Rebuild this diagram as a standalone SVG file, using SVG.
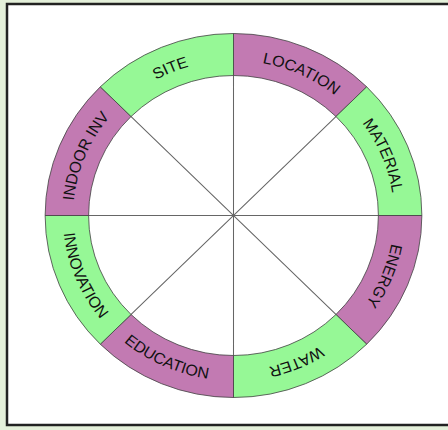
<svg xmlns="http://www.w3.org/2000/svg" width="448" height="430" viewBox="0 0 448 430">
<style>
.g{fill:#96f896;stroke:#444;stroke-width:0.8}
.p{fill:#c27ab2;stroke:#444;stroke-width:0.8}
.t{font-family:"Liberation Sans",Arial,sans-serif;font-size:15.5px;fill:#111}
.sp{stroke:#666;stroke-width:1;fill:none}
</style>
<defs>
<path id="tLOC" d="M0,-155 A155,155 0 0 1 109.6,-109.6"/>
<path id="tMAT" d="M109.6,-109.6 A155,155 0 0 1 155,0"/>
<path id="tENE" d="M155,0 A155,155 0 0 1 109.6,109.6"/>
<path id="tWAT" d="M109.6,109.6 A155,155 0 0 1 0,155"/>
<path id="tEDU" d="M-116.67,116.67 A165,165 0 0 0 0,165"/>
<path id="tINN" d="M-165,0 A165,165 0 0 0 -116.67,116.67"/>
<path id="tIND" d="M-155,0 A155,155 0 0 1 -109.6,-109.6"/>
<path id="tSIT" d="M-109.6,-109.6 A155,155 0 0 1 0,-155"/>
</defs>
<rect x="0" y="0" width="448" height="430" fill="#e4f0da"/>
<rect x="7" y="4" width="446" height="421" fill="#fff" stroke="#222" stroke-width="2.5"/>
<g transform="translate(233.5,215.5) scale(1.035,1)">
<g id="connectors">
<path class="sp" d="M0,-182 V182 M-182,0 H182 M-128.69,-128.69 L128.69,128.69 M128.69,-128.69 L-128.69,128.69"/>
</g>
<g id="location"><path class="p" d="M0,-182 A182,182 0 0 1 128.69,-128.69 L98.99,-98.99 A140,140 0 0 0 0,-140Z"/><text class="t" text-anchor="middle"><textPath href="#tLOC" startOffset="55%">LOCATION</textPath></text></g>
<g id="material"><path class="g" d="M128.69,-128.69 A182,182 0 0 1 182,0 L140,0 A140,140 0 0 0 98.99,-98.99Z"/><text class="t" text-anchor="middle"><textPath href="#tMAT" startOffset="50%">MATERIAL</textPath></text></g>
<g id="energy"><path class="p" d="M182,0 A182,182 0 0 1 128.69,128.69 L98.99,98.99 A140,140 0 0 0 140,0Z"/><text class="t" text-anchor="middle"><textPath href="#tENE" startOffset="50%">ENERGY</textPath></text></g>
<g id="water"><path class="g" d="M128.69,128.69 A182,182 0 0 1 0,182 L0,140 A140,140 0 0 0 98.99,98.99Z"/><text class="t" text-anchor="middle"><textPath href="#tWAT" startOffset="50%">WATER</textPath></text></g>
<g id="education"><path class="p" d="M0,182 A182,182 0 0 1 -128.69,128.69 L-98.99,98.99 A140,140 0 0 0 0,140Z"/><text class="t" text-anchor="middle"><textPath href="#tEDU" startOffset="46%">EDUCATION</textPath></text></g>
<g id="innovation"><path class="g" d="M-128.69,128.69 A182,182 0 0 1 -182,0 L-140,0 A140,140 0 0 0 -98.99,98.99Z"/><text class="t" text-anchor="middle"><textPath href="#tINN" startOffset="50%">INNOVATION</textPath></text></g>
<g id="indoor-inv"><path class="p" d="M-182,0 A182,182 0 0 1 -128.69,-128.69 L-98.99,-98.99 A140,140 0 0 0 -140,0Z"/><text class="t" text-anchor="middle"><textPath href="#tIND" startOffset="50%">INDOOR INV</textPath></text></g>
<g id="site"><path class="g" d="M-128.69,-128.69 A182,182 0 0 1 0,-182 L0,-140 A140,140 0 0 0 -98.99,-98.99Z"/><text class="t" text-anchor="middle"><textPath href="#tSIT" startOffset="50%">SITE</textPath></text></g>
</g>
</svg>
